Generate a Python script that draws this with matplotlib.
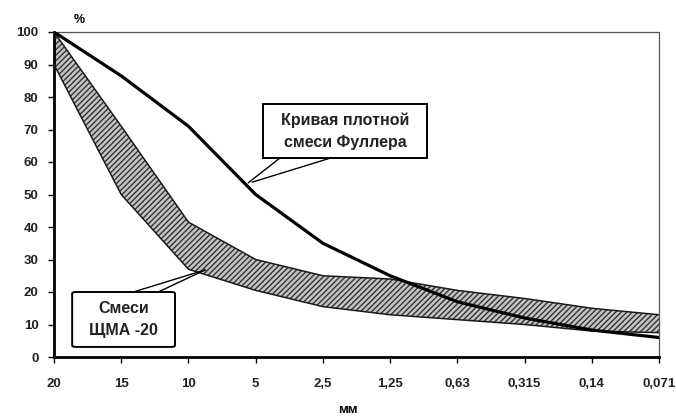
import matplotlib
matplotlib.use("Agg")
import matplotlib.pyplot as plt
from matplotlib.patches import FancyBboxPatch, Rectangle
import numpy as np

plt.rcParams['font.family'] = ['Liberation Sans', 'DejaVu Sans']

sizes = ["20", "15", "10", "5", "2,5", "1,25", "0,63", "0,315", "0,14", "0,071"]
fuller = [100, 86.5, 71, 50, 35, 25, 17, 12, 8.3, 6]
band_upper = [100, 71, 41.5, 30, 25, 24, 20.5, 18, 15, 13]
band_lower = [90, 50, 27, 20.5, 15.5, 13, 11.5, 10, 8, 7.5]
yticks = [0, 10, 20, 30, 40, 50, 60, 70, 80, 90, 100]

fig = plt.figure(figsize=(6.76, 4.16), dpi=100)
ax = fig.add_axes([54/676, 59/416, (659-54)/676, (357-32)/416])
x = np.arange(len(sizes))

plt.rcParams['hatch.linewidth'] = 1.0
plt.rcParams['hatch.color'] = '#333333'
ax.fill_between(x, band_lower, band_upper, facecolor='#c4c4c4', edgecolor='#333333',
                hatch='//////', linewidth=0, zorder=2)
ax.plot(x, band_upper, color='#1a1a1a', lw=1.1, zorder=3, solid_joinstyle='round')
ax.plot(x, band_lower, color='#1a1a1a', lw=1.1, zorder=3, solid_joinstyle='round')
ax.plot(x, fuller, color='black', lw=2.3, zorder=4, solid_joinstyle='round')

ax.set_xlim(0, len(sizes) - 1)
ax.set_ylim(0, 100)
ax.set_xticks(x)
ax.set_xticklabels(sizes)
ax.set_yticks(yticks)
ax.tick_params(axis='both', labelsize=9.5, length=4, width=1, direction='out')
ax.tick_params(axis='x', pad=11)
ax.tick_params(axis='y', pad=7)
for lab in ax.get_xticklabels() + ax.get_yticklabels():
    lab.set_fontweight('bold')
    lab.set_color('#222222')

for s in ['left', 'bottom']:
    ax.spines[s].set_linewidth(2.0)
for s in ['top', 'right']:
    ax.spines[s].set_linewidth(0.9)
    ax.spines[s].set_color('#555555')

fig.text(79/676, 1 - 20/416, "%", fontsize=9, fontweight='bold', ha='center', va='center')
fig.text(348/676, 1 - 404/416, "мм", fontsize=9.5, fontweight='bold', ha='center', va='top')

# callout boxes (positions in data coordinates of the axes)
box_kw = dict(fc='white', ec='black', lw=1.4, zorder=6)
ax.add_patch(Rectangle((3.11, 61.2), 5.55 - 3.11, 77.8 - 61.2, **box_kw))
ax.text((3.11 + 5.55) / 2, (61.2 + 77.8) / 2, "Кривая плотной\nсмеси Фуллера",
        fontsize=11.5, fontweight='bold', ha='center', va='center', linespacing=1.6,
        color='#222222', zorder=7)
ax.add_patch(FancyBboxPatch((0.27, 3.1), 1.80 - 0.27, 20.0 - 3.1,
                            boxstyle='round,pad=0,rounding_size=0.06',
                            mutation_aspect=8, **box_kw))
ax.text((0.27 + 1.80) / 2, (3.1 + 20.0) / 2, "Смеси\nЩМА -20",
        fontsize=11.5, fontweight='bold', ha='center', va='center', linespacing=1.6,
        color='#222222', zorder=7)

line_kw = dict(arrowstyle='-', color='black', lw=1.0, shrinkA=0, shrinkB=0)
for base, tip in [((3.36, 61.2), (2.89, 53.6)), ((4.11, 61.2), (2.95, 53.8)),
                  ((1.18, 20.0), (2.25, 26.8)), ((1.55, 20.0), (2.25, 26.8))]:
    ax.annotate("", xy=tip, xytext=base, arrowprops=line_kw, zorder=5)

fig.savefig("out.png", dpi=100)
